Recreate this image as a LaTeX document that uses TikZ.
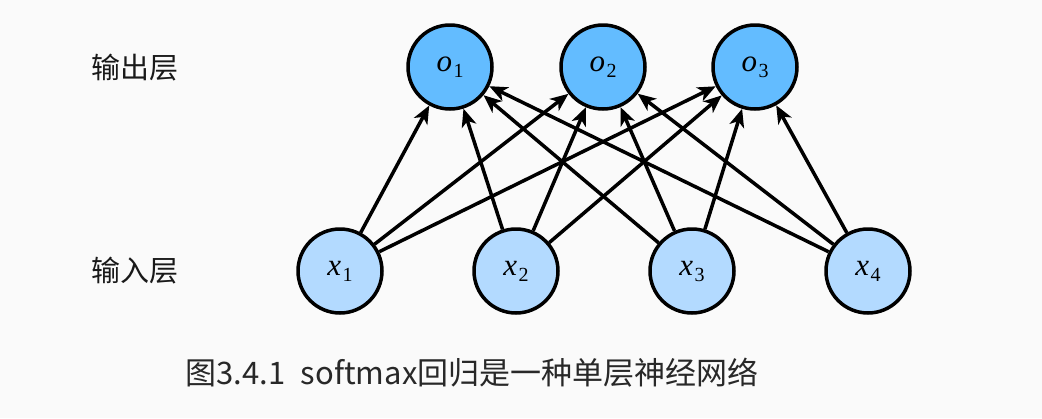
\documentclass[tikz,border=0pt]{standalone}
\usepackage{fontspec}
\setmainfont{Liberation Serif}
\newfontfamily\cjk{Noto Sans CJK SC}
\usetikzlibrary{arrows.meta}
\definecolor{bg}{RGB}{250,250,250}
\definecolor{outc}{RGB}{99,188,255}
\definecolor{inc}{RGB}{179,218,255}
\definecolor{captc}{RGB}{40,40,40}
\newcommand\nlab[2]{{\fontsize{31}{31}\selectfont\itshape #1}\kern1.5pt\raisebox{-6pt}{\fontsize{20}{20}\selectfont #2}}
\begin{document}
\begin{tikzpicture}[x=1pt,y=-1pt,
  neuron/.style={circle,draw=black,line width=3.5pt,minimum size=84pt,inner sep=0pt},
  outn/.style={neuron,fill=outc},
  inn/.style={neuron,fill=inc},
  conn/.style={line width=3.5pt,-{Stealth[length=18pt,width=15pt,inset=5pt]}},
  layerlab/.style={font=\cjk\fontsize{29}{29}\selectfont, text=black!90},
]
\fill[bg] (0,0) rectangle (1042,418);
\useasboundingbox (0,0) rectangle (1042,418);

\node[outn] (o1) at (450,67) {\nlab{o}{1}};
\node[outn] (o2) at (603,67) {\nlab{o}{2}};
\node[outn] (o3) at (755,67) {\nlab{o}{3}};

\node[inn] (x1) at (340,271) {\nlab{x}{1}};
\node[inn] (x2) at (516,271) {\nlab{x}{2}};
\node[inn] (x3) at (692,271) {\nlab{x}{3}};
\node[inn] (x4) at (868,271) {\nlab{x}{4}};

\foreach \i in {1,...,4}
  \foreach \j in {1,2,3}
    \draw[conn] (x\i) -- (o\j);

\node[layerlab] (lo) at (135,68) {输出层};
\node[layerlab] (li) at (135,271) {输入层};

\node[font=\cjk\fontsize{31}{31}\selectfont, text=captc] (cap) at (472,373) {图3.4.1\hspace{0.5em}softmax回归是一种单层神经网络};
\end{tikzpicture}
\end{document}
